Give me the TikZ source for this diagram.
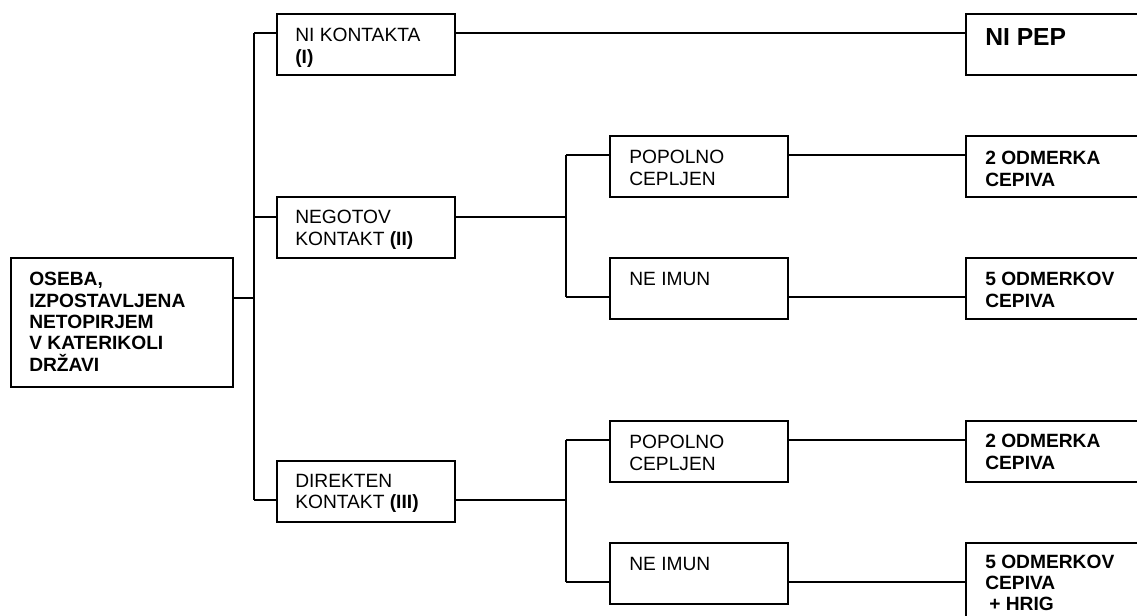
\documentclass[tikz,border=0pt]{standalone}
\usepackage{fontspec}
\setmainfont{Liberation Sans}
\usetikzlibrary{calc}

\begin{document}
\begin{tikzpicture}[
    x=0.75pt, y=-0.75pt,
    box/.style={draw, rectangle, line width=1.3pt, inner sep=0pt, anchor=north west,
                minimum width=133.5pt, minimum height=46pt},
    rootbox/.style={box, minimum width=166.5pt, minimum height=96.75pt},
    endbox/.style={box, minimum width=190pt},
    txt/.style={anchor=north west, inner sep=0pt, align=left,
                font=\fontsize{14.4}{16}\selectfont},
    btxt/.style={txt, font=\fontsize{14.4}{16}\selectfont\bfseries},
    link/.style={line width=1.3pt},
]

    % page area (right and bottom boxes run off the page)
    \clip (0,0) rectangle (1137,615);

    % ============================================================
    %  BOXES
    % ============================================================
    % start
    \node[rootbox] (root) at (10,257) {};
    % level of contact
    \node[box] (k1) at (276,13)  {};
    \node[box] (k2) at (276,196) {};
    \node[box] (k3) at (276,460) {};
    % vaccination status
    \node[box] (s1) at (609,135) {};
    \node[box] (s2) at (609,257) {};
    \node[box] (s3) at (609,420) {};
    \node[box] (s4) at (609,542) {};
    % measures
    \node[endbox] (r0) at (965,13)  {};
    \node[endbox] (r1) at (965,135) {};
    \node[endbox] (r2) at (965,257) {};
    \node[endbox] (r3) at (965,420) {};
    \node[endbox, minimum height=70pt] (r4) at (965,542) {};

    % ============================================================
    %  TEXTS
    % ============================================================
    \node[btxt] (root-t) at ($(root.north west)+(19,15)$)
        {OSEBA,\\IZPOSTAVLJENA\\NETOPIRJEM\\V KATERIKOLI\\DRŽAVI};
    \node[txt] (k1-t) at ($(k1.north west)+(19,15)$) {NI KONTAKTA\\\textbf{(I)}};
    \node[txt] (k2-t) at ($(k2.north west)+(19,14)$) {NEGOTOV\\KONTAKT \textbf{(II)}};
    \node[txt] (k3-t) at ($(k3.north west)+(19,14)$) {DIREKTEN\\KONTAKT \textbf{(III)}};
    \node[txt] (s1-t) at ($(s1.north west)+(20,15)$) {POPOLNO\\CEPLJEN};
    \node[txt] (s2-t) at ($(s2.north west)+(20,15)$) {NE IMUN};
    \node[txt] (s3-t) at ($(s3.north west)+(20,15)$) {POPOLNO\\CEPLJEN};
    \node[txt] (s4-t) at ($(s4.north west)+(20,15)$) {NE IMUN};
    \node[btxt, font=\fontsize{18.5}{20}\selectfont\bfseries] (r0-t)
        at ($(r0.north west)+(20,15)$) {NI PEP};
    \node[btxt] (r1-t) at ($(r1.north west)+(20,16)$) {2 ODMERKA\\CEPIVA};
    \node[btxt] (r2-t) at ($(r2.north west)+(20,15)$) {5 ODMERKOV\\CEPIVA};
    \node[btxt] (r3-t) at ($(r3.north west)+(20,14)$) {2 ODMERKA\\CEPIVA};
    \node[btxt, font=\fontsize{14.4}{15.6}\selectfont\bfseries] (r4-t)
        at ($(r4.north west)+(20,13)$) {5 ODMERKOV\\CEPIVA\\\hspace{3pt}+ HRIG};

    % ============================================================
    %  JUNCTIONS
    % ============================================================
    \coordinate (j0) at (254,298);
    \coordinate (j1) at (254,33);
    \coordinate (j2) at (254,217);
    \coordinate (j3) at (254,500);
    \coordinate (m1) at (566,217);
    \coordinate (m2) at (566,500);
    \coordinate (b1) at (566,155);
    \coordinate (b2) at (566,297);
    \coordinate (b3) at (566,440);
    \coordinate (b4) at (566,582);

    % ============================================================
    %  CONNECTORS
    % ============================================================
    \draw[link] (root.east |- j0) -- (j0);
    \draw[link] (j1) -- (j3);
    \draw[link] (j1) -- (k1.west |- j1);
    \draw[link] (j2) -- (k2.west |- j2);
    \draw[link] (j3) -- (k3.west |- j3);

    \draw[link] (k1.east |- j1) -- (r0.west |- j1);
    \draw[link] (k2.east |- j2) -- (m1);
    \draw[link] (k3.east |- j3) -- (m2);

    \draw[link] (b1) -- (b2);
    \draw[link] (b3) -- (b4);
    \draw[link] (b1) -- (s1.west |- b1);
    \draw[link] (b2) -- (s2.west |- b2);
    \draw[link] (b3) -- (s3.west |- b3);
    \draw[link] (b4) -- (s4.west |- b4);

    \draw[link] (s1.east |- b1) -- (r1.west |- b1);
    \draw[link] (s2.east |- b2) -- (r2.west |- b2);
    \draw[link] (s3.east |- b3) -- (r3.west |- b3);
    \draw[link] (s4.east |- b4) -- (r4.west |- b4);

\end{tikzpicture}
\end{document}
